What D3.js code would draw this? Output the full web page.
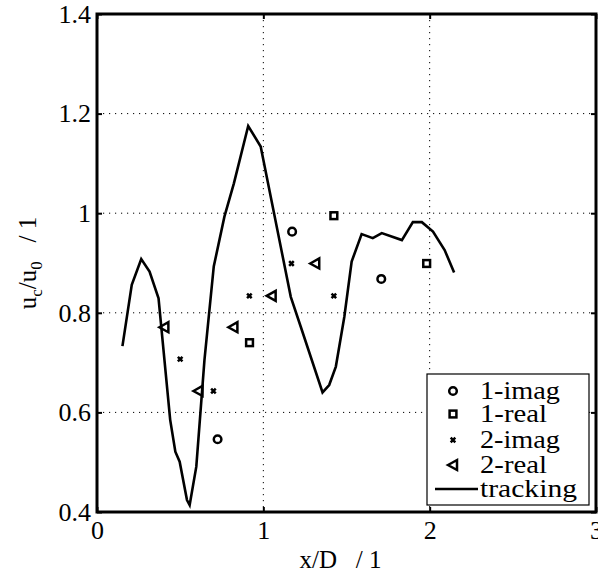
<!DOCTYPE html>
<html>
<head>
<meta charset="utf-8">
<script src="https://cdn.jsdelivr.net/npm/d3@7"></script>
<style>
  body { margin: 0; background: #fff; }
  svg text { font-family: 'Liberation Serif', 'Times New Roman', 'DejaVu Serif', serif !important; }
</style>
</head>
<body>
<div id="chart"></div>
<script>
// tracking curve
const trackX = [0.153, 0.209, 0.266, 0.316, 0.370, 0.440, 0.471, 0.497, 0.541, 0.557, 0.597, 0.646,
  0.702, 0.766, 0.823, 0.909, 0.984, 1.165, 1.225, 1.356, 1.396, 1.436, 1.487, 1.531, 1.591,
  1.658, 1.712, 1.833, 1.899, 1.953, 2.020, 2.090, 2.147];
const trackY = [0.733, 0.856, 0.908, 0.883, 0.829, 0.585, 0.521, 0.501, 0.424, 0.414, 0.491, 0.705,
  0.893, 0.993, 1.060, 1.175, 1.134, 0.832, 0.772, 0.640, 0.655, 0.692, 0.792, 0.903, 0.958,
  0.950, 0.960, 0.946, 0.982, 0.982, 0.963, 0.926, 0.881];

// mode points
const imag1X = [0.725, 1.173, 1.709];
const imag1Y = [0.546, 0.963, 0.868];
const real1X = [0.917, 1.424, 1.982];
const real1Y = [0.740, 0.995, 0.899];
const imag2X = [0.500, 0.700, 0.916, 1.169, 1.424];
const imag2Y = [0.707, 0.643, 0.834, 0.899, 0.834];
const real2X = [0.405, 0.610, 0.820, 1.050, 1.312];
const real2Y = [0.771, 0.643, 0.771, 0.834, 0.899];

const xTicks = [0, 1, 2, 3];
const yTicks = [0.4, 0.6, 0.8, 1, 1.2, 1.4];
const legendLabels = ['1-imag', '1-real', '2-imag', '2-real', 'tracking'];

const W = 598, H = 573;
const margin = { top: 14, right: 2, bottom: 61, left: 97 };
const width = W - margin.left - margin.right;
const height = H - margin.top - margin.bottom;

const svg = d3.select('#chart').append('svg')
  .attr('width', W)
  .attr('height', H);

const g = svg.append('g')
  .attr('transform', `translate(${margin.left},${margin.top})`);

const x = d3.scaleLinear().domain([0, 3]).range([0, width]);
const y = d3.scaleLinear().domain([0.4, 1.4]).range([height, 0]);

// dotted grid
g.append('g').selectAll('line')
  .data(xTicks.slice(1, -1)).enter().append('line')
  .attr('x1', d => x(d)).attr('x2', d => x(d))
  .attr('y1', 0).attr('y2', height)
  .attr('stroke', '#000').attr('stroke-width', 1)
  .attr('stroke-dasharray', '1.2,4.8');
g.append('g').selectAll('line')
  .data(yTicks.slice(1, -1)).enter().append('line')
  .attr('x1', 0).attr('x2', width)
  .attr('y1', d => y(d)).attr('y2', d => y(d))
  .attr('stroke', '#000').attr('stroke-width', 1)
  .attr('stroke-dasharray', '1.2,4.8');

// axes (ticks inside, labels outside)
const styleAxis = sel => {
  sel.select('.domain').remove();
  sel.attr('font-family', null);
  sel.selectAll('line').attr('stroke', '#000').attr('stroke-width', 2);
  sel.selectAll('text').attr('fill', '#000').style('font-size', '26px');
};
g.append('g')
  .attr('transform', `translate(0,${height})`)
  .call(d3.axisBottom(x).tickValues(xTicks).tickSizeInner(-5).tickPadding(9).tickFormat(d3.format('d')))
  .call(styleAxis);
g.append('g')
  .call(d3.axisTop(x).tickValues(xTicks).tickSizeInner(-5).tickFormat(''))
  .call(styleAxis);
g.append('g')
  .call(d3.axisLeft(y).tickValues(yTicks).tickSizeInner(-5).tickPadding(6).tickFormat(d => d === 1 ? '1' : d3.format('.1f')(d)))
  .call(styleAxis);
g.append('g')
  .attr('transform', `translate(${width},0)`)
  .call(d3.axisRight(y).tickValues(yTicks).tickSizeInner(-5).tickFormat(''))
  .call(styleAxis);

// tracking line
const track = trackX.map((v, i) => ({ x: v, y: trackY[i] }));
g.append('path')
  .datum(track)
  .attr('fill', 'none')
  .attr('stroke', '#000')
  .attr('stroke-width', 2.6)
  .attr('d', d3.line().x(d => x(d.x)).y(d => y(d.y)));

// marker drawers
const markers = {
  circle: (sel) => sel.append('circle').attr('r', 3.8),
  square: (sel) => sel.append('rect').attr('x', -3.4).attr('y', -3.4).attr('width', 6.8).attr('height', 6.8),
  cross: (sel) => sel.append('path').attr('d', 'M-2.3,-2.3L2.3,2.3M-2.3,2.3L2.3,-2.3'),
  triangle: (sel) => sel.append('path').attr('d', 'M-5,0L4,-5L4,5Z')
};

function drawPoints(xs, ys, type) {
  const pts = xs.map((v, i) => ({ x: v, y: ys[i] }));
  const gs = g.append('g').selectAll('g')
    .data(pts).enter().append('g')
    .attr('transform', d => `translate(${x(d.x)},${y(d.y)})`)
    .attr('fill', 'none').attr('stroke', '#000').attr('stroke-width', 2.5);
  markers[type](gs);
}
drawPoints(imag1X, imag1Y, 'circle');
drawPoints(real1X, real1Y, 'square');
drawPoints(imag2X, imag2Y, 'cross');
drawPoints(real2X, real2Y, 'triangle');

// frame
g.append('rect')
  .attr('x', 0).attr('y', 0).attr('width', width).attr('height', height)
  .attr('fill', 'none').attr('stroke', '#000').attr('stroke-width', 3);

// legend
const lg = svg.append('g').attr('transform', 'translate(427,374)');
lg.append('rect')
  .attr('width', 162).attr('height', 131)
  .attr('fill', '#fff').attr('stroke', '#000').attr('stroke-width', 1.2);
const types = ['circle', 'square', 'cross', 'triangle'];
const rowY = [17, 40, 66, 91, 115];
const labelLen = [80, 67, 80, 67, 97];
legendLabels.forEach((lab, i) => {
  const row = lg.append('g').attr('transform', `translate(0,${rowY[i]})`);
  if (i < 4) {
    const m = row.append('g').attr('transform', 'translate(26,0)')
      .attr('fill', 'none').attr('stroke', '#000').attr('stroke-width', 2.5);
    markers[types[i]](m);
  } else {
    row.append('line').attr('x1', 8).attr('x2', 51).attr('y1', 0).attr('y2', 0)
      .attr('stroke', '#000').attr('stroke-width', 2.6);
  }
  row.append('text')
    .attr('x', 53).attr('y', 8)
    .attr('textLength', labelLen[i])
    .attr('lengthAdjust', 'spacingAndGlyphs')
    .style('font-size', '25px')
    .text(lab);
});

// axis labels
svg.append('text')
  .attr('x', margin.left + width / 2 - 6).attr('y', 568)
  .attr('text-anchor', 'middle')
  .style('font-size', '25px')
  .attr('xml:space', 'preserve')
  .text('x/D   / 1');

const yl = svg.append('text')
  .attr('transform', `translate(36,${margin.top + height / 2}) rotate(-90)`)
  .attr('text-anchor', 'middle')
  .style('font-size', '25px')
  .attr('xml:space', 'preserve');
yl.append('tspan').text('u');
yl.append('tspan').attr('dy', 6).style('font-size', '17px').text('c');
yl.append('tspan').attr('dy', -6).text('/u');
yl.append('tspan').attr('dy', 6).style('font-size', '17px').text('0');
yl.append('tspan').attr('dy', -6).text('   / 1');
</script>
</body>
</html>
